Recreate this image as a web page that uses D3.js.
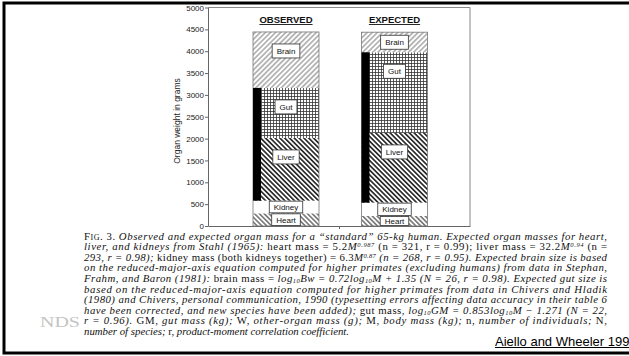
<!DOCTYPE html>
<html>
<head>
<meta charset="utf-8">
<script src="https://cdn.jsdelivr.net/npm/d3@7"></script>
<style>
body { margin: 0; background: #fff; }
svg { display: block; }
</style>
</head>
<body>
<svg id="chart" width="629" height="356"></svg>
<script>
// values (grams)
const categories = ["OBSERVED", "EXPECTED"];
const organs = ["Heart", "Kidney", "Liver", "Gut", "Brain"];
const observedMass = [290, 290, 1435, 1145, 1280];
const expectedMass = [230, 305, 1595, 1845, 460];
// the black strip runs beside these organs
const blackStrip = ["Liver", "Gut"];
const yTicks = [0, 500, 1000, 1500, 2000, 2500, 3000, 3500, 4000, 4500, 5000];

const captionLines = [
    [["Fig. 3. ", "sc"], ["Observed and expected organ mass for a \u201cstandard\u201d 65-kg human. Expected organ masses for heart,", "i"]],
    [["liver, and kidneys from Stahl (1965): ", "i"], ["heart mass = 5.2", "r"], ["M", "i"], ["0.987", "sup"], [" (n = 321, r = 0.99); liver mass = 32.2", "r"], ["M", "i"], ["0.94", "sup"], [" (n =", "r"]],
    [["293, r = 0.98); ", "i"], ["kidney mass (both kidneys together) = 6.3", "r"], ["M", "i"], ["0.87", "sup"], [" (n = 268, r = 0.95). Expected brain size is based", "i"]],
    [["on the reduced-major-axis equation computed for higher primates (excluding humans) from data in Stephan,", "i"]],
    [["Frahm, and Baron (1981): ", "i"], ["brain mass = ", "r"], ["log", "i"], ["10", "sub"], ["Bw = 0.72log", "i"], ["10", "sub"], ["M + 1.35 (N = 26, r = 0.98). Expected gut size is", "i"]],
    [["based on the reduced-major-axis equation computed for higher primates from data in Chivers and Hladik", "i"]],
    [["(1980) and Chivers, personal communication, 1990 (typesetting errors affecting data accuracy in their table 6", "i"]],
    [["have been corrected, and new species have been added); ", "i"], ["gut mass, ", "r"], ["log", "i"], ["10", "sub"], ["GM = 0.853log", "i"], ["10", "sub"], ["M \u2212 1.271 (N = 22,", "i"]],
    [["r = 0.96). ", "i"], ["GM, ", "r"], ["gut mass (kg); ", "i"], ["W, ", "r"], ["other-organ mass (g); ", "i"], ["M, ", "r"], ["body mass (kg); ", "i"], ["n, ", "r"], ["number of individuals; ", "i"], ["N,", "r"]],
    [["number of species; ", "i"], ["r, ", "r"], ["product-moment correlation coefficient.", "i"]]
];

const svg = d3.select("#chart");
const sans = "'Liberation Sans', Arial, sans-serif";
const serif = "'Liberation Serif', 'Times New Roman', serif";

const plotLeft = 208, plotRight = 470;
const barWidth = 66, stripWidth = 8;

const y = d3.scaleLinear().domain([0, 5000]).range([226, 7.5]);
const x = d3.scalePoint().domain(categories).range([286, 394.5]);

// fill patterns
const defs = svg.append("defs");
function hatch(id, size, angle, stroke, width) {
    const p = defs.append("pattern")
        .attr("id", id)
        .attr("patternUnits", "userSpaceOnUse")
        .attr("width", size)
        .attr("height", size)
        .attr("patternTransform", `rotate(${angle})`);
    p.append("rect").attr("width", size).attr("height", size).attr("fill", "#fff");
    p.append("line")
        .attr("x1", size / 2).attr("x2", size / 2)
        .attr("y1", 0).attr("y2", size)
        .attr("stroke", stroke)
        .attr("stroke-width", width);
}
hatch("brain", 3.6, 45, "#555", 0.8);
hatch("liver", 3.4, -45, "#111", 1.5);
hatch("heart", 3.4, -45, "#555", 1.3);
const grid = defs.append("pattern")
    .attr("id", "gut")
    .attr("patternUnits", "userSpaceOnUse")
    .attr("width", 3)
    .attr("height", 3);
grid.append("rect").attr("width", 3).attr("height", 3).attr("fill", "#fff");
grid.append("path").attr("d", "M0,0.5H3M0.5,0V3").attr("stroke", "#333").attr("stroke-width", 0.8);

const fills = { Heart: "url(#heart)", Kidney: "#fff", Liver: "url(#liver)", Gut: "url(#gut)", Brain: "url(#brain)" };

// page frame of the scan
svg.append("rect")
    .attr("x", 4).attr("y", 3)
    .attr("width", 700).attr("height", 350)
    .attr("fill", "none")
    .attr("stroke", "#000")
    .attr("stroke-width", 3);

// plot frame: top and right edges
svg.append("path")
    .attr("d", `M${plotLeft},${y(5000)}H${plotRight}V${y(0)}`)
    .attr("fill", "none")
    .attr("stroke", "#888")
    .attr("stroke-width", 1);

// axes
const yAxis = svg.append("g")
    .attr("transform", `translate(${plotLeft},0)`)
    .call(d3.axisLeft(y).tickValues(yTicks).tickFormat(d3.format("d"))
        .tickSize(3).tickSizeOuter(0).tickPadding(1));
yAxis.select(".domain").attr("stroke", "#666");
yAxis.selectAll(".tick line").attr("stroke", "#666");
yAxis.selectAll(".tick text")
    .attr("font-family", sans)
    .attr("font-size", 8)
    .attr("fill", "#222");

const xMid = d3.scaleLinear().domain([0, 1]).range([plotLeft, plotRight]);
const xAxis = svg.append("g")
    .attr("transform", `translate(0,${y(0)})`)
    .call(d3.axisBottom(xMid).tickValues([0.5]).tickFormat("").tickSize(3).tickSizeOuter(0));
xAxis.selectAll("path, line").attr("stroke", "#666");

svg.append("text")
    .attr("transform", `translate(180,121) rotate(-90)`)
    .attr("text-anchor", "middle")
    .attr("font-family", sans)
    .attr("font-size", 8.5)
    .attr("fill", "#222")
    .text("Organ weight in grams");

// stacked bars
const rows = categories.map((c, i) => {
    const src = i === 0 ? observedMass : expectedMass;
    const r = { category: c };
    organs.forEach((o, j) => r[o] = src[j]);
    return r;
});
const series = d3.stack().keys(organs)(rows);

const bars = svg.append("g");
series.forEach(s => {
    bars.selectAll(null)
        .data(s)
        .join("rect")
        .attr("x", d => x(d.data.category) - barWidth / 2)
        .attr("y", d => y(d[1]))
        .attr("width", barWidth)
        .attr("height", d => y(d[0]) - y(d[1]))
        .attr("fill", fills[s.key]);
});

// outline round each whole bar
bars.selectAll(null)
    .data(rows)
    .join("rect")
    .attr("x", d => x(d.category) - barWidth / 2)
    .attr("y", d => y(d3.sum(organs, o => d[o])))
    .attr("width", barWidth)
    .attr("height", d => y(0) - y(d3.sum(organs, o => d[o])))
    .attr("fill", "none")
    .attr("stroke", "#777")
    .attr("stroke-width", 0.8);

// black strip beside liver and gut
const stripLow = series.find(s => s.key === blackStrip[0]);
const stripHigh = series.find(s => s.key === blackStrip[1]);
bars.selectAll(null)
    .data(categories)
    .join("rect")
    .attr("x", c => x(c) - barWidth / 2)
    .attr("y", (c, i) => y(stripHigh[i][1]))
    .attr("width", stripWidth)
    .attr("height", (c, i) => y(stripLow[i][0]) - y(stripHigh[i][1]))
    .attr("fill", "#000");

// organ labels in white boxes
const labels = svg.append("g");
series.forEach(s => {
    s.forEach(d => {
        const top = y(d[1]), h = y(d[0]) - y(d[1]);
        const small = h < 16;
        const cy = small ? top + h / 2 : top + Math.min(h / 2, 19);
        const g = labels.append("g");
        const t = g.append("text")
            .attr("x", x(d.data.category))
            .attr("y", cy + 3)
            .attr("text-anchor", "middle")
            .attr("font-family", sans)
            .attr("font-size", 8)
            .attr("fill", "#111")
            .text(s.key);
        const w = t.node().getComputedTextLength() + 9;
        const bh = small ? Math.max(h - 1, 9) : 14;
        g.insert("rect", "text")
            .attr("x", x(d.data.category) - w / 2)
            .attr("y", cy - bh / 2)
            .attr("width", w)
            .attr("height", bh)
            .attr("fill", "#fff")
            .attr("stroke", "#333")
            .attr("stroke-width", 0.8);
    });
});

// column headers, underlined
categories.forEach(c => {
    const t = svg.append("text")
        .attr("x", x(c))
        .attr("y", 22.5)
        .attr("text-anchor", "middle")
        .attr("font-family", sans)
        .attr("font-size", 9.5)
        .attr("font-weight", "bold")
        .attr("fill", "#111")
        .text(c);
    const w = t.node().getComputedTextLength();
    svg.append("line")
        .attr("x1", x(c) - w / 2).attr("x2", x(c) + w / 2)
        .attr("y1", 24.5).attr("y2", 24.5)
        .attr("stroke", "#111")
        .attr("stroke-width", 0.9);
});

// caption
const cap = svg.append("g")
    .attr("font-family", serif)
    .attr("font-size", 10.8)
    .attr("fill", "#111");
captionLines.forEach((line, i) => {
    const t = cap.append("text")
        .attr("x", 84)
        .attr("y", 239.5 + i * 10.6);
    if (i < captionLines.length - 1) {
        t.attr("textLength", 523).attr("lengthAdjust", "spacing");
    }
    let shift = 0;
    line.forEach(([txt, style]) => {
        const sp = t.append("tspan").text(txt);
        let target = 0;
        if (style === "i") sp.attr("font-style", "italic");
        if (style === "sc") sp.attr("font-variant", "small-caps");
        if (style === "sup") { target = -3; sp.attr("font-size", 6.5).attr("font-style", "italic"); }
        if (style === "sub") { target = 1.5; sp.attr("font-size", 6.5).attr("font-style", "italic"); }
        if (target !== shift) { sp.attr("dy", target - shift); shift = target; }
    });
});

// watermark and credit
svg.append("text")
    .attr("x", 40)
    .attr("y", 327)
    .attr("font-family", serif)
    .attr("font-size", 15)
    .attr("textLength", 40)
    .attr("lengthAdjust", "spacingAndGlyphs")
    .attr("fill", "#c4c4c4")
    .text("NDS");

const credit = svg.append("text")
    .attr("x", 495)
    .attr("y", 345.5)
    .attr("font-family", sans)
    .attr("font-size", 13)
    .attr("fill", "#000")
    .text("Aiello and Wheeler 1990");
svg.append("line")
    .attr("x1", 495).attr("x2", 495 + credit.node().getComputedTextLength())
    .attr("y1", 347.5).attr("y2", 347.5)
    .attr("stroke", "#000")
    .attr("stroke-width", 1);
</script>
</body>
</html>
